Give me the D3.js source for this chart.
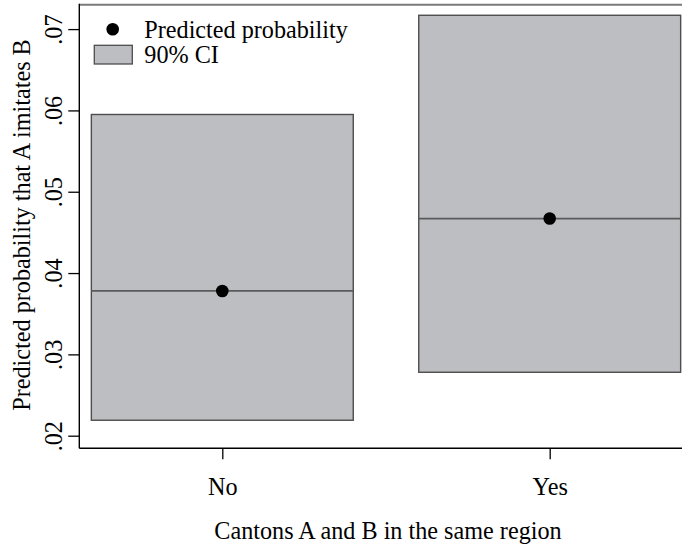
<!DOCTYPE html>
<html>
<head>
<meta charset="utf-8">
<script src="https://cdn.jsdelivr.net/npm/d3@7"></script>
<style>
  html, body { margin: 0; padding: 0; background: #fff; }
  svg { display: block; font-family: "Liberation Serif", "Times New Roman", serif; }
</style>
</head>
<body>
<svg id="chart" width="682" height="545"></svg>
<script>
// Predicted probability with 90% confidence interval, by region membership
const categories = ["No", "Yes"];
const predicted = [0.0378, 0.0467];
const ciLower = [0.0219, 0.0278];
const ciUpper = [0.0595, 0.0717];
const yTicks = [0.02, 0.03, 0.04, 0.05, 0.06, 0.07];
const legendLabels = ["Predicted probability", "90% CI"];
const xTitle = "Cantons A and B in the same region";
const yTitle = "Predicted probability that A imitates B";

const svg = d3.select("#chart");
const W = 682, H = 545;
const plot = { left: 79.3, right: 692.7, top: 4.7, bottom: 448.3 };

const x = d3.scalePoint()
  .domain(categories)
  .range([plot.left, plot.right])
  .padding(0.4368);

const y = d3.scaleLinear()
  .domain([0.01845, 0.073])
  .range([plot.bottom, plot.top]);

const boxW = x.step() * 0.8;
const fillGrey = "#bdbec2";
const edgeGrey = "#4d4d4d";
const fontSize = 24.2;

const rows = categories.map((c, i) => ({
  cat: c, p: predicted[i], lo: ciLower[i], hi: ciUpper[i]
}));

// confidence interval boxes
svg.append("g").selectAll("rect")
  .data(rows)
  .join("rect")
  .attr("x", d => x(d.cat) - boxW / 2)
  .attr("width", boxW)
  .attr("y", d => y(d.hi))
  .attr("height", d => y(d.lo) - y(d.hi))
  .attr("fill", fillGrey)
  .attr("stroke", edgeGrey)
  .attr("stroke-width", 1.4);

// line across each box at the predicted value
svg.append("g").selectAll("line")
  .data(rows)
  .join("line")
  .attr("x1", d => x(d.cat) - boxW / 2)
  .attr("x2", d => x(d.cat) + boxW / 2)
  .attr("y1", d => y(d.p))
  .attr("y2", d => y(d.p))
  .attr("stroke", "#5a5a5a")
  .attr("stroke-width", 1.8);

// predicted probability points
svg.append("g").selectAll("circle")
  .data(rows)
  .join("circle")
  .attr("cx", d => x(d.cat))
  .attr("cy", d => y(d.p))
  .attr("r", 6.3)
  .attr("fill", "#000");

// plot frame
svg.append("line")
  .attr("x1", plot.left).attr("x2", W)
  .attr("y1", plot.top).attr("y2", plot.top)
  .attr("stroke", "#7a7a7a").attr("stroke-width", 2);
svg.append("line")
  .attr("x1", plot.left).attr("x2", plot.left)
  .attr("y1", plot.top - 1).attr("y2", plot.bottom)
  .attr("stroke", "#000").attr("stroke-width", 1.4);

// y axis
const yAxis = d3.axisLeft(y)
  .tickValues(yTicks)
  .tickSize(11)
  .tickFormat(v => d3.format(".2f")(v).replace(/^0/, ""));
const gy = svg.append("g")
  .attr("transform", `translate(${plot.left},0)`)
  .call(yAxis);
gy.select(".domain").remove();
gy.selectAll(".tick line").attr("stroke", "#000").attr("stroke-width", 1.3);
gy.selectAll(".tick text")
  .attr("font-size", fontSize)
  .attr("font-family", "Liberation Serif, Times New Roman, serif")
  .attr("fill", "#000")
  .attr("text-anchor", "middle")
  .attr("dy", null)
  .attr("x", null)
  .attr("transform", "translate(-17.5,0) rotate(-90)");

// x axis
const xAxis = d3.axisBottom(x).tickSize(11).tickPadding(24);
const gx = svg.append("g")
  .attr("transform", `translate(0,${plot.bottom})`)
  .call(xAxis);
gx.select(".domain")
  .attr("d", `M${plot.left},0H${W + 20}`)
  .attr("stroke", "#000").attr("stroke-width", 1.4);
gx.selectAll(".tick line").attr("stroke", "#000").attr("stroke-width", 1.3);
gx.selectAll(".tick text")
  .attr("font-size", fontSize)
  .attr("font-family", "Liberation Serif, Times New Roman, serif")
  .attr("fill", "#000")
  .attr("dy", null)
  .attr("y", 46.7);

// axis titles
svg.append("text")
  .attr("x", 388)
  .attr("y", 539)
  .attr("text-anchor", "middle")
  .attr("font-size", fontSize)
  .text(xTitle);

svg.append("text")
  .attr("transform", "translate(30,225) rotate(-90)")
  .attr("text-anchor", "middle")
  .attr("font-size", fontSize)
  .text(yTitle);

// legend
const lg = svg.append("g");
lg.append("circle")
  .attr("cx", 112.7).attr("cy", 29.3).attr("r", 6.3)
  .attr("fill", "#000");
lg.append("rect")
  .attr("x", 94.3).attr("y", 45.3)
  .attr("width", 38).attr("height", 18.7)
  .attr("fill", fillGrey)
  .attr("stroke", edgeGrey)
  .attr("stroke-width", 1.3);
lg.selectAll("text")
  .data(legendLabels)
  .join("text")
  .attr("x", 144.3)
  .attr("y", (d, i) => 38.3 + i * 25)
  .attr("font-size", fontSize)
  .text(d => d);
</script>
</body>
</html>
